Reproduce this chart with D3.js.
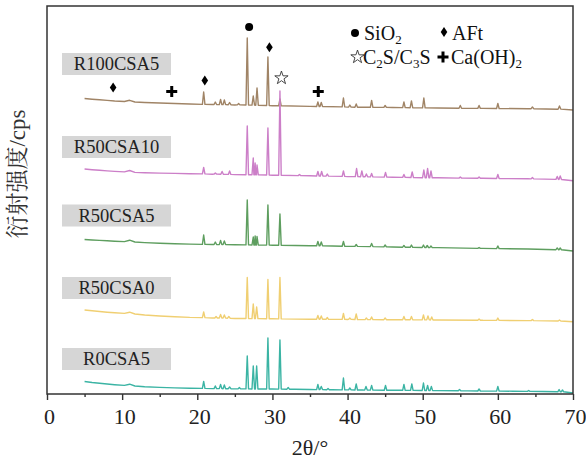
<!DOCTYPE html>
<html><head><meta charset="utf-8">
<script src="https://cdn.jsdelivr.net/npm/d3@7"></script>
<style>body{margin:0;background:#fff} svg{display:block}</style>
</head><body><svg id="c" width="586" height="463"></svg>
<script>
// ---------- DATA ----------
const seriesNames = ["R100CSA5", "R50CSA10", "R50CSA5", "R50CSA0", "R0CSA5"];
const xMajorTicks = [0, 10, 20, 30, 40, 50, 60, 70];
const xMinorTicks = [5, 15, 25, 35, 45, 55, 65];
const xTitle = "2θ/°";
const yTitle = "衍射强度/cps";

// baseline points: [2θ, intensity]
const baseR100CSA5 = [[5,295.5],[6,294.8],[7,294.2],[8,293.6],[9,293],[10.3,292.5],[11,293.7],[11.7,292],[13,291.5],[15,291],[17,290.5],[19,290],[22,289.5],[25,289],[30,288.3],[35,287.6],[40,286.9],[46,286.5],[52,286],[58,285.6],[64,285.3],[68,284.8],[70,284]];
const baseR50CSA10 = [[5,225],[6,224.3],[7,223.7],[8,223.1],[9,222.6],[10.3,222.1],[11,223.5],[11.7,221.6],[13,221.2],[15,220.9],[17,220.6],[19,220.3],[22,219.8],[25,219.4],[30,218.8],[35,218.2],[40,217.4],[46,216.8],[52,216.2],[58,215.7],[64,215.2],[68,214.5],[70,213.3]];
const baseR50CSA5 = [[5,154.5],[6,154],[7,153.6],[8,153.2],[9,152.8],[10.3,152.4],[11,153.8],[11.7,152],[13,151.4],[15,150.8],[17,150.3],[19,149.9],[22,149.5],[25,149.2],[30,148.8],[35,148.3],[40,147.6],[46,147],[52,146.4],[58,145.6],[64,145],[68,144.2],[70,143]];
const baseR50CSA0 = [[5,84],[6,83.2],[7,82.5],[8,81.8],[9,81.2],[10.3,80.6],[11,81.8],[11.7,80],[13,79],[15,78],[17,77.3],[19,76.6],[22,76],[25,75.5],[30,75.2],[35,74.8],[40,74.5],[46,74.2],[52,74],[58,73.7],[64,73.4],[68,73],[70,72.3]];
const baseR0CSA5 = [[5,12.5],[6,11.5],[7,10.8],[8,10],[9,9.3],[10.3,8.6],[11,9.8],[11.7,8],[13,7.3],[15,6.6],[17,6.1],[19,5.7],[22,5.4],[25,5.1],[30,5],[33,4.7],[35,4.5],[38,4.2],[42,4],[46,3.7],[52,3.4],[56,3.1],[62,2.8],[66,2.5],[68,2.3],[70,1]];

// peaks: [2θ, foot intensity, top intensity]
const peaksR100CSA5 = [[20.85,289.6,302],[22.4,289.5,292],[23.1,289.4,294.5],[23.6,289.4,294],[24.3,289.3,291.5],[25.5,289.1,290.5],[26.65,289,356],[27.45,288.9,298],[27.95,288.8,306],[29.4,288.5,337],[31.0,288.2,295],[36.05,287.5,292],[36.5,287.5,291.5],[39.45,287.1,296],[40.3,286.9,289],[41.15,286.8,290],[43.2,286.7,293.5],[45.0,286.6,288.5],[47.5,286.4,292],[48.5,286.3,293],[50.15,286.1,296],[55.0,285.8,288.5],[57.5,285.6,288.5],[60.0,285.5,290.5],[64.6,285.3,287],[68.2,284.9,288]];
const peaksR50CSA10 = [[20.85,220.1,226.5],[22.4,219.9,221],[23.3,219.7,222.5],[24.3,219.6,223],[26.65,219.3,268],[27.45,219.2,236],[27.7,219.2,231],[27.95,219.2,229],[29.4,219,266],[31.0,218.7,303],[33.6,218.4,219.5],[36.05,218,222.5],[36.55,218,222.5],[37.3,217.9,220],[39.45,217.6,223],[41.2,217.4,225.5],[41.9,217.3,223],[42.5,217.2,220],[43.2,217.1,220.5],[45.05,216.9,221.5],[47.5,216.6,219.5],[48.6,216.5,222],[50.15,216.3,224],[50.65,216.3,225.5],[51.1,216.2,223],[55.0,215.9,217],[57.5,215.7,217],[60.0,215.5,219.5],[64.6,215.1,216.5],[67.9,214.6,217.5],[68.3,214.5,218]];
const peaksR50CSA5 = [[20.85,149.6,159],[22.4,149.5,152],[23.1,149.4,153.5],[23.6,149.4,153],[26.65,149.1,194],[27.45,149,157],[27.7,149,158],[27.95,149,157.5],[29.4,148.9,189],[31.0,148.8,180],[36.05,148.2,152.5],[36.5,148.2,152],[39.45,147.8,152.5],[41.15,147.6,149.5],[43.2,147.4,150.5],[45.0,147.1,149],[47.5,146.8,148.5],[48.5,146.7,149],[50.1,146.5,149],[50.6,146.5,148.5],[51.1,146.4,148],[57.5,145.6,146.5],[60.0,145.4,148],[67.9,144.3,146],[68.3,144.2,146]];
const peaksR50CSA0 = [[20.85,76.4,82],[22.5,76,77.5],[23.1,76,79.5],[23.6,75.9,79],[24.2,75.8,77.5],[26.65,75.5,116.5],[27.45,75.4,90],[27.9,75.4,87],[29.4,75.2,114.5],[31.0,75.1,116.5],[36.05,74.8,78.5],[36.5,74.8,78],[37.3,74.7,76.5],[39.45,74.6,80.5],[40.3,74.6,76],[41.15,74.5,80],[42.5,74.4,76],[43.2,74.4,77],[45.0,74.3,76],[47.5,74.2,77.5],[48.5,74.2,77.5],[50.1,74.1,79],[50.7,74.1,78],[51.2,74,77],[57.5,73.8,75],[60.0,73.6,76],[64.6,73.4,74.5],[68.2,73,74]];
const peaksR0CSA5 = [[20.85,5.6,12.5],[22.4,5.4,8],[23.1,5.4,9.5],[23.6,5.3,9],[24.3,5.3,7],[25.6,5.1,6.5],[26.65,5.1,38],[27.45,5,28],[27.9,5,28],[29.4,5,56],[31.0,4.9,54],[32.1,4.8,6.5],[36.05,4.4,9.5],[36.5,4.4,7.5],[37.4,4.3,5.5],[39.45,4.1,16],[40.3,4.1,6],[41.15,4,10],[42.45,3.9,7.5],[43.2,3.9,8.5],[45.05,3.8,8.5],[47.5,3.7,9.5],[48.55,3.6,10],[50.1,3.5,11],[50.65,3.5,8.5],[51.15,3.4,7.5],[54.9,3.2,4.5],[57.5,3,5],[60.0,2.9,7.5],[64.1,2.6,3.5],[68.15,2.2,4.5],[68.6,2.2,4]];

// phase markers: [symbol, 2θ, intensity]
const markerTypes = ["diamond","cross","diamond","circle","diamond","star","cross"];
const markerX = [8.8, 16.6, 21.0, 26.9, 29.6, 31.2, 36.1];
const markerY = [306.5, 302.5, 313.5, 367, 346.7, 316, 302.5];

// ---------- LAYOUT / STYLE ----------
const colors = {R100CSA5:"#a08466", R50CSA10:"#cc7fc8", R50CSA5:"#5e9e5f", R50CSA0:"#f0cf72", R0CSA5:"#3bb4a4"};
const labelTop = {R100CSA5:53, R50CSA10:136, R50CSA5:204.5, R50CSA0:277, R0CSA5:348};
const bases = {R100CSA5:baseR100CSA5, R50CSA10:baseR50CSA10, R50CSA5:baseR50CSA5, R50CSA0:baseR50CSA0, R0CSA5:baseR0CSA5};
const peaks = {R100CSA5:peaksR100CSA5, R50CSA10:peaksR50CSA10, R50CSA5:peaksR50CSA5, R50CSA0:peaksR50CSA0, R0CSA5:peaksR0CSA5};

const L = 47, R = 573, T = 6, B = 394;
const serif = "'Liberation Serif','Times New Roman',serif";
const svg = d3.select("#c");
const x = d3.scaleLinear().domain([0, 70]).range([L, R]);
const y = d3.scaleLinear().domain([0, 388]).range([B, T]);

const halfW = 0.17;
function buildPoints(base, pk) {
  const pts = base.filter(b => !pk.some(p => Math.abs(p[0] - b[0]) <= halfW + 0.02)).map(b => [b[0], b[1]]);
  pk.forEach(p => { pts.push([p[0] - halfW, p[1]], [p[0], p[2]], [p[0] + halfW, p[1]]); });
  pts.sort((a, b) => a[0] - b[0]);
  return pts;
}
const line = d3.line().x(d => x(d[0])).y(d => y(d[1]));

["R0CSA5","R50CSA0","R50CSA5","R100CSA5","R50CSA10"].forEach(n => {
  svg.append("path").attr("d", line(buildPoints(bases[n], peaks[n])))
    .attr("fill", "none").attr("stroke", colors[n]).attr("stroke-width", 1.4)
    .attr("stroke-linejoin", "round");
});

// frame
svg.append("rect").attr("x", L).attr("y", T).attr("width", R - L).attr("height", B - T)
  .attr("fill", "none").attr("stroke", "#333").attr("stroke-width", 1.5);

// axes
const gMaj = svg.append("g").attr("transform", `translate(0,${B})`)
  .call(d3.axisBottom(x).tickValues(xMajorTicks).tickSize(6).tickPadding(8).tickFormat(d3.format("d")));
const gMin = svg.append("g").attr("transform", `translate(0,${B})`)
  .call(d3.axisBottom(x).tickValues(xMinorTicks).tickSize(3).tickFormat(""));
[gMaj, gMin].forEach(g => {
  g.select(".domain").remove();
  g.selectAll("line").attr("stroke", "#333").attr("stroke-width", 1.4);
});
gMaj.selectAll("text").attr("font-family", serif).attr("font-size", 22).attr("fill", "#222").attr("dx", 2);

svg.append("text").attr("x", 310).attr("y", 455).attr("text-anchor", "middle")
  .attr("font-family", serif).attr("font-size", 22).attr("fill", "#222").text(xTitle);
svg.append("text").attr("transform", "translate(25,174) rotate(-90)").attr("text-anchor", "middle")
  .attr("font-family", "'Liberation Serif','Noto Serif CJK SC','Noto Sans CJK SC',serif")
  .attr("font-size", 23).attr("fill", "#333").text(yTitle);

// sample labels
seriesNames.forEach(n => {
  svg.append("rect").attr("x", 62).attr("y", labelTop[n]).attr("width", 109).attr("height", 22).attr("fill", "#d6d6d6");
  svg.append("text").attr("x", 116.5).attr("y", labelTop[n] + 17).attr("text-anchor", "middle")
    .attr("font-family", serif).attr("font-size", 18.5).attr("fill", "#222").text(n);
});

// symbols
function drawSym(type, cx, cy) {
  if (type === "circle") {
    svg.append("circle").attr("cx", cx).attr("cy", cy).attr("r", 4).attr("fill", "#000");
  } else if (type === "diamond") {
    svg.append("path").attr("d", `M${cx},${cy-5}L${cx+3.3},${cy}L${cx},${cy+5}L${cx-3.3},${cy}Z`).attr("fill", "#000");
  } else if (type === "cross") {
    svg.append("path").attr("d", `M${cx-5.5},${cy}H${cx+5.5}M${cx},${cy-5.5}V${cy+5.5}`)
      .attr("stroke", "#000").attr("stroke-width", 3).attr("fill", "none");
  } else if (type === "star") {
    svg.append("path").attr("d", d3.symbol(d3.symbolStar, 55)()).attr("transform", `translate(${cx},${cy})`)
      .attr("fill", "none").attr("stroke", "#333").attr("stroke-width", 0.9);
  }
}
markerTypes.forEach((t, i) => drawSym(t, x(markerX[i]), y(markerY[i])));

// legend
const leg = svg.append("g").attr("font-family", serif).attr("font-size", 20).attr("fill", "#111");
drawSym("circle", 355, 33);
let t1 = leg.append("text").attr("x", 364).attr("y", 40);
t1.append("tspan").text("SiO");
t1.append("tspan").attr("font-size", 13).attr("dy", 4).text("2");
drawSym("diamond", 444, 32);
leg.append("text").attr("x", 452).attr("y", 40).text("AFt");
drawSym("star", 357.5, 57);
let t2 = leg.append("text").attr("x", 363).attr("y", 64);
t2.append("tspan").text("C");
t2.append("tspan").attr("font-size", 13).attr("dy", 4).text("2");
t2.append("tspan").attr("dy", -4).text("S/C");
t2.append("tspan").attr("font-size", 13).attr("dy", 4).text("3");
t2.append("tspan").attr("dy", -4).text("S");
drawSym("cross", 443, 57);
let t3 = leg.append("text").attr("x", 451).attr("y", 64);
t3.append("tspan").text("Ca(OH)");
t3.append("tspan").attr("font-size", 13).attr("dy", 4).text("2");
</script>
</body></html>
